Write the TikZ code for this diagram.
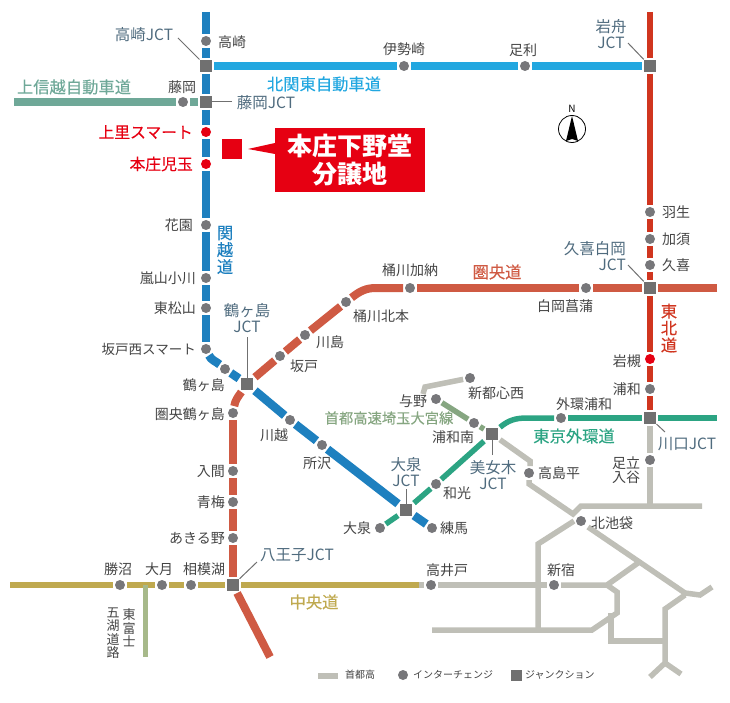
\documentclass[tikz,border=0pt]{standalone}
\usepackage{fontspec}
\newfontfamily\cjk{Noto Sans CJK JP}
\newfontfamily\cjkmed[FakeBold=0.25]{Noto Sans CJK JP}
\definecolor{kanetsuBlue}{HTML}{1E80BF}
\definecolor{kitakantoBlue}{HTML}{22A7E0}
\definecolor{tohokuRed}{HTML}{D0351F}
\definecolor{kenoRed}{HTML}{CF5A43}
\definecolor{gaikanGreen}{HTML}{2CA483}
\definecolor{chuoGold}{HTML}{BFA94F}
\definecolor{fujiGreen}{HTML}{A7B98A}
\definecolor{joshinGreen}{HTML}{6FA898}
\definecolor{saitamaGreen}{HTML}{86A681}
\definecolor{shutoGray}{HTML}{BFBFB7}
\definecolor{dotGray}{HTML}{77777A}
\definecolor{jctGray}{HTML}{707070}
\definecolor{jctBlue}{HTML}{4F6B7E}
\definecolor{labelGray}{HTML}{444444}
\definecolor{siteRed}{HTML}{E60012}
\tikzset{
	ic/.style={circle, fill=dotGray, minimum size=10pt, inner sep=0pt, outer sep=2pt},
	redic/.style={ic, fill=siteRed},
	jct/.style={rectangle, fill=jctGray, minimum size=12pt, inner sep=0pt, outer sep=2pt},
	lab/.style={font=\cjk\fontsize{14}{14.5}\selectfont, text=labelGray, inner sep=0pt, align=center},
	jctlab/.style={font=\cjk\fontsize{15.5}{16}\selectfont, text=jctBlue, inner sep=0pt, align=center},
	roadlab/.style={font=\cjkmed\fontsize{16.3}{17}\selectfont, inner sep=0pt, align=center},
	redlab/.style={font=\cjkmed\fontsize{15.8}{16}\selectfont, text=siteRed, inner sep=0pt},
	leglab/.style={font=\cjk\fontsize{10}{11}\selectfont, text=labelGray, inner sep=0pt, anchor=west},
	leader/.style={draw=jctGray, line width=1pt, shorten >=-2pt},
	kanetsu/.style={draw=kanetsuBlue, line width=8.5pt},
	kitakanto/.style={draw=kitakantoBlue, line width=8pt},
	tohoku/.style={draw=tohokuRed, line width=6pt},
	keno/.style={draw=kenoRed, line width=8pt},
	gaikan/.style={draw=gaikanGreen, line width=5.5pt},
	chuo/.style={draw=chuoGold, line width=6pt},
	fuji/.style={draw=fujiGreen, line width=5pt},
	joshin/.style={draw=joshinGreen, line width=8pt},
	saitama/.style={draw=saitamaGreen, line width=5.5pt},
	shuto/.style={draw=shutoGray, line width=5.5pt}
}
\begin{document}
\begin{tikzpicture}[x=1pt, y=-1pt]
	\useasboundingbox (0,0) rectangle (730,703);

	%Junctions
	\node (takasakiJCT) at (206,66) [jct]{};
	\node (fujiokaJCT) at (206,102) [jct]{};
	\node (iwafuneJCT) at (650,66) [jct]{};
	\node (kukiJCT) at (650,288) [jct]{};
	\node (tsurugashimaJCT) at (247,384) [jct]{};
	\node (kawaguchiJCT) at (650,418) [jct]{};
	\node (bijogiJCT) at (492,434) [jct]{};
	\node (oizumiJCT) at (406,510) [jct]{};
	\node (hachiojiJCT) at (233,585) [jct]{};

	%Interchanges
	\node (takasaki) at (206,41) [ic]{};
	\node (fujioka) at (183,102) [ic]{};
	\node (kamisato) at (206,132) [redic]{};
	\node (honjo) at (206,164) [redic]{};
	\node (hanazono) at (206,225) [ic]{};
	\node (ranzan) at (206,278) [ic]{};
	\node (higashimatsuyama) at (206,308) [ic]{};
	\node (sakadonishi) at (206,349) [ic]{};
	\node (tsurugashima) at (225,369) [ic]{};
	\node (kawagoe) at (290,420) [ic]{};
	\node (tokorozawa) at (322,445) [ic]{};
	\node (nerima) at (432,528) [ic]{};
	\node (isesaki) at (404,66) [ic]{};
	\node (ashikaga) at (525,66) [ic]{};
	\node (hanyu) at (650,212) [ic]{};
	\node (kazo) at (650,239) [ic]{};
	\node (kuki) at (650,265) [ic]{};
	\node (iwatsuki) at (650,359) [redic]{};
	\node (urawa) at (650,389) [ic]{};
	\node (adachi) at (650,460) [ic]{};
	\node (shiraoka) at (586,288) [ic]{};
	\node (okegawakano) at (410,288) [ic]{};
	\node (okegawakita) at (346,302) [ic]{};
	\node (kawajima) at (305,335) [ic]{};
	\node (sakado) at (280,356) [ic]{};
	\node (kenoTsurugashima) at (233,413) [ic]{};
	\node (iruma) at (233,471) [ic]{};
	\node (ome) at (233,502) [ic]{};
	\node (akiruno) at (233,538) [ic]{};
	\node (katsunuma) at (120,585) [ic]{};
	\node (otsuki) at (162,585) [ic]{};
	\node (sagamiko) at (191,585) [ic]{};
	\node (takaido) at (431,585) [ic]{};
	\node (shinjuku) at (554,585) [ic]{};
	\node (oizumi) at (380,528) [ic]{};
	\node (wako) at (436,484) [ic]{};
	\node (gaikanUrawa) at (561,418) [ic]{};
	\node (yono) at (436,399) [ic]{};
	\node (urawaminami) at (474,423) [ic]{};
	\node (shintoshin) at (470,378) [ic]{};
	\node (takashimadaira) at (529,473) [ic]{};
	\node (kitaikebukuro) at (581,521) [ic]{};

	%Free ends of the roads
	\coordinate (kanetsuTop) at (206,12);
	\coordinate (tohokuTop) at (650,12);
	\coordinate (joshinEnd) at (14,102);
	\coordinate (kenoEast) at (717,288);
	\coordinate (kenoBend) at (376,288);
	\coordinate (kenoSouth) at (270,657);
	\coordinate (gaikanEast) at (717,418);
	\coordinate (gaikanBend) at (527,418);
	\coordinate (chuoEnd) at (10,585);
	\coordinate (chuoEast) at (419,585);
	\coordinate (fujiTop) at (145,585);
	\coordinate (fujiEnd) at (145,657);
	\coordinate (adachiEnd) at (650,506);

	%Roads
	\draw[kanetsu] (kanetsuTop) -- (takasaki);
	\draw[kanetsu] (takasaki) -- (takasakiJCT);
	\draw[kanetsu] (takasakiJCT) -- (fujiokaJCT);
	\draw[kanetsu] (fujiokaJCT) -- (kamisato);
	\draw[kanetsu] (kamisato) -- (honjo);
	\draw[kanetsu] (honjo) -- (hanazono);
	\draw[kanetsu] (hanazono) -- (ranzan);
	\draw[kanetsu] (ranzan) -- (higashimatsuyama);
	\draw[kanetsu] (higashimatsuyama) -- (sakadonishi);
	\draw[kanetsu] (sakadonishi) to[out=-65, in=140] (tsurugashima);
	\draw[kanetsu] (tsurugashima) -- (tsurugashimaJCT);
	\draw[kanetsu] (tsurugashimaJCT) -- (kawagoe);
	\draw[kanetsu] (kawagoe) -- (tokorozawa);
	\draw[kanetsu] (tokorozawa) -- (oizumiJCT);
	\draw[kanetsu] (oizumiJCT) -- (nerima);

	\draw[kitakanto] (takasakiJCT) -- (isesaki);
	\draw[kitakanto] (isesaki) -- (ashikaga);
	\draw[kitakanto] (ashikaga) -- (iwafuneJCT);

	\draw[joshin] (joshinEnd) -- (fujioka);
	\draw[joshin] (fujioka) -- (fujiokaJCT);

	\draw[tohoku] (tohokuTop) -- (iwafuneJCT);
	\draw[tohoku] (iwafuneJCT) -- (hanyu);
	\draw[tohoku] (hanyu) -- (kazo);
	\draw[tohoku] (kazo) -- (kuki);
	\draw[tohoku] (kuki) -- (kukiJCT);
	\draw[tohoku] (kukiJCT) -- (iwatsuki);
	\draw[tohoku] (iwatsuki) -- (urawa);
	\draw[tohoku] (urawa) -- (kawaguchiJCT);

	\draw[keno] (kenoEast) -- (kukiJCT);
	\draw[keno] (kukiJCT) -- (shiraoka);
	\draw[keno] (shiraoka) -- (okegawakano);
	\draw[keno] (okegawakano) -- (kenoBend) to[out=180, in=38] (okegawakita);
	\draw[keno] (okegawakita) -- (kawajima);
	\draw[keno] (kawajima) -- (sakado);
	\draw[keno] (sakado) -- (tsurugashimaJCT);
	\draw[keno] (tsurugashimaJCT) to[out=235, in=80] (kenoTsurugashima);
	\draw[keno] (kenoTsurugashima) -- (iruma);
	\draw[keno] (iruma) -- (ome);
	\draw[keno] (ome) -- (akiruno);
	\draw[keno] (akiruno) -- (hachiojiJCT);
	\draw[keno] (hachiojiJCT) -- (kenoSouth);

	\draw[gaikan] (oizumi) -- (oizumiJCT);
	\draw[gaikan] (oizumiJCT) -- (wako);
	\draw[gaikan] (wako) -- (bijogiJCT);
	\draw[gaikan] (bijogiJCT) to[out=40, in=180] (gaikanBend) -- (gaikanUrawa);
	\draw[gaikan] (gaikanUrawa) -- (kawaguchiJCT);
	\draw[gaikan] (kawaguchiJCT) -- (gaikanEast);

	\draw[saitama] (yono) -- (urawaminami);
	\draw[saitama] (urawaminami) -- (bijogiJCT);

	\draw[chuo] (chuoEnd) -- (katsunuma);
	\draw[chuo] (katsunuma) -- (otsuki);
	\draw[chuo] (otsuki) -- (sagamiko);
	\draw[chuo] (sagamiko) -- (hachiojiJCT);
	\draw[chuo] (hachiojiJCT) -- (chuoEast);
	\draw[fuji] (fujiTop) -- (fujiEnd);

	%Shutoko
	\draw[shuto] (chuoEast) -- (takaido);
	\draw[shuto] (shintoshin) -- (425,387) -- (423,394);
	\draw[shuto] (bijogiJCT) -- (530,461) -- (530,466);
	\draw[shuto] (takashimadaira) -- (529,484) -- (573,514) -- (581,506) -- (702,506);
	\draw[shuto] (adachi) -- (adachiEnd);
	\draw[shuto] (kawaguchiJCT) -- (adachi);
	\draw[shuto] (574,521) -- (538,544) -- (538,630);
	\draw[shuto] (takaido) -- (shinjuku);
	\draw[shuto] (shinjuku) -- (607,585) -- (638,563);
	\draw[shuto] (607,585) -- (617,592) -- (617,613) -- (592,630) -- (432,630);
	\draw[shuto] (588,527) -- (685,593) -- (700,595) -- (712,587);
	\draw[shuto] (685,595) -- (665,609) -- (665,663) -- (650,677);
	\draw[shuto] (665,663) -- (681,674);
	\draw[shuto] (611,613) -- (611,641) -- (665,641);

	%Leaders
	\coordinate (takasakiLead) at (178,38);
	\coordinate (fujiokaLead) at (232,102);
	\coordinate (iwafuneLead) at (628,43);
	\coordinate (kukiLead) at (628,265);
	\coordinate (tsurugashimaLead) at (247,337);
	\coordinate (kawaguchiLead) at (665,432);
	\coordinate (bijogiLead) at (492,455);
	\coordinate (oizumiLead) at (406,489);
	\coordinate (hachiojiLead) at (257,562);
	\draw[leader] (takasakiLead) -- (takasakiJCT);
	\draw[leader] (fujiokaLead) -- (fujiokaJCT);
	\draw[leader] (iwafuneLead) -- (iwafuneJCT);
	\draw[leader] (kukiLead) -- (kukiJCT);
	\draw[leader] (tsurugashimaLead) -- (tsurugashimaJCT);
	\draw[leader] (kawaguchiLead) -- (kawaguchiJCT);
	\draw[leader] (bijogiLead) -- (bijogiJCT);
	\draw[leader] (oizumiLead) -- (oizumiJCT);
	\draw[leader] (hachiojiLead) -- (hachiojiJCT);

	%Junction labels
	\node (takasakiJCTtext) at (144,35) [jctlab]{高崎JCT};
	\node (fujiokaJCTtext) at (266,103) [jctlab]{藤岡JCT};
	\node (iwafuneJCTtext) at (611,34) [jctlab]{岩舟\\JCT};
	\node (kukiJCTtext) at (626,256) [jctlab, anchor=east, align=right]{久喜白岡\\JCT};
	\node (tsurugashimaJCTtext) at (247,318) [jctlab]{鶴ヶ島\\JCT};
	\node (kawaguchiJCTtext) at (687,444) [jctlab]{川口JCT};
	\node (bijogiJCTtext) at (493,475) [jctlab]{美女木\\JCT};
	\node (oizumiJCTtext) at (406,472) [jctlab]{大泉\\JCT};
	\node (hachiojiJCTtext) at (297,555) [jctlab]{八王子JCT};

	%Interchange labels
	\node (takasakiText) at (232,42) [lab]{高崎};
	\node (fujiokaText) at (182,87) [lab]{藤岡};
	\node (kamisatoText) at (193,132) [redlab, anchor=east]{上里スマート};
	\node (honjoText) at (193,164) [redlab, anchor=east]{本庄児玉};
	\node (hanazonoText) at (193,225) [lab, anchor=east]{花園};
	\node (ranzanText) at (196,278) [lab, anchor=east]{嵐山小川};
	\node (higashimatsuyamaText) at (196,308) [lab, anchor=east]{東松山};
	\node (sakadonishiText) at (196,349) [lab, anchor=east, font=\cjk\fontsize{13.5}{14.5}\selectfont]{坂戸西スマート};
	\node (tsurugashimaText) at (225,385) [lab, anchor=east]{鶴ヶ島};
	\node (kenoTsurugashimaText) at (225,414) [lab, anchor=east]{圏央鶴ヶ島};
	\node (kawagoeText) at (274,435) [lab]{川越};
	\node (tokorozawaText) at (317,463) [lab]{所沢};
	\node (sakadoText) at (304,366) [lab]{坂戸};
	\node (kawajimaText) at (330,342) [lab]{川島};
	\node (okegawakitaText) at (381,316) [lab]{桶川北本};
	\node (okegawakanoText) at (410,270) [lab]{桶川加納};
	\node (shiraokaText) at (565,306) [lab]{白岡菖蒲};
	\node (isesakiText) at (404,49) [lab]{伊勢崎};
	\node (ashikagaText) at (523,50) [lab]{足利};
	\node (hanyuText) at (676,212) [lab]{羽生};
	\node (kazoText) at (676,239) [lab]{加須};
	\node (kukiText) at (676,265) [lab]{久喜};
	\node (iwatsukiText) at (641,361) [lab, anchor=east]{岩槻};
	\node (urawaText) at (641,389) [lab, anchor=east]{浦和};
	\node (adachiText) at (626,470) [lab]{足立\\入谷};
	\node (yonoText) at (413,401) [lab]{与野};
	\node (shintoshinText) at (496,393) [lab]{新都心西};
	\node (urawaminamiText) at (453,437) [lab]{浦和南};
	\node (gaikanUrawaText) at (584,404) [lab]{外環浦和};
	\node (takashimadairaText) at (559,473) [lab]{高島平};
	\node (wakoText) at (457,493) [lab]{和光};
	\node (oizumiText) at (357,528) [lab]{大泉};
	\node (nerimaText) at (454,528) [lab]{練馬};
	\node (kitaikebukuroText) at (612,523) [lab]{北池袋};
	\node (takaidoText) at (447,570) [lab]{高井戸};
	\node (shinjukuText) at (561,570) [lab]{新宿};
	\node (katsunumaText) at (118,569) [lab]{勝沼};
	\node (otsukiText) at (159,569) [lab]{大月};
	\node (sagamikoText) at (204,569) [lab]{相模湖};
	\node (irumaText) at (225,471) [lab, anchor=east]{入間};
	\node (omeText) at (225,502) [lab, anchor=east]{青梅};
	\node (akirunoText) at (225,538) [lab, anchor=east]{あきる野};
	\node (fujiText) at (129,628) [lab, font=\cjk\fontsize{13}{13.5}\selectfont]{東\\富\\士};
	\node (goko) at (113,633) [lab, font=\cjk\fontsize{13}{13.5}\selectfont]{五\\湖\\道\\路};

	%Road names
	\node (joshinText) at (74,87) [roadlab, text=joshinGreen]{上信越自動車道};
	\node (kitakantoText) at (324,84) [roadlab, text=kitakantoBlue]{北関東自動車道};
	\node (kanetsuText) at (225,250) [roadlab, text=kanetsuBlue]{関\\越\\道};
	\node (tohokuText) at (669,328) [roadlab, text=tohokuRed]{東\\北\\道};
	\node (kenoText) at (497,272) [roadlab, text=kenoRed]{圏央道};
	\node (gaikanText) at (574,436) [roadlab, text=gaikanGreen]{東京外環道};
	\node (saitamaText) at (389,418) [roadlab, text=saitamaGreen, font=\cjkmed\fontsize{14.3}{15}\selectfont]{首都高速埼玉大宮線};
	\node (chuoText) at (314,602) [roadlab, text=chuoGold]{中央道};

	%Site
	\node (siteMark) at (232,149) [rectangle, fill=siteRed, minimum size=20pt, inner sep=0pt]{};
	\node (siteBox) at (350,160) [rectangle, fill=siteRed, minimum width=150pt, minimum height=64pt,
	inner sep=0pt, text=white, align=center, font=\cjk\bfseries\fontsize{25}{28}\selectfont]{本庄下野堂\\分譲地};
	\fill[siteRed] (275,143) -- (248,149) -- (275,154) -- cycle;

	%North mark
	\node (compass) at (572,129) [circle, draw=black, line width=0.8pt, minimum size=27pt, inner sep=0pt]{};
	\node (northText) at (572,109) [lab, text=black, font=\cjk\fontsize{10}{11}\selectfont]{N};
	\fill[black] (572,116) -- (578,141) -- (572,139) -- (566,141) -- cycle;

	%Legend
	\coordinate (legendA) at (318,676);
	\coordinate (legendB) at (338,676);
	\draw[shuto] (legendA) -- (legendB);
	\node (legendShuto) at (345,675) [leglab]{首都高};
	\node (legendIC) at (403,675) [ic]{};
	\node (legendICtext) at (413,675) [leglab]{インターチェンジ};
	\node (legendJCT) at (516,675) [jct, minimum size=11pt]{};
	\node (legendJCTtext) at (525,675) [leglab]{ジャンクション};
\end{tikzpicture}
\end{document}
